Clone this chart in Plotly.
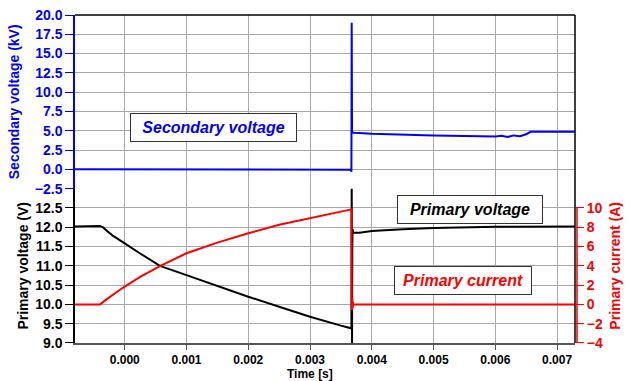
import plotly.graph_objects as go

# ---- data ----
t_sec = [-0.000805, 0.0, 0.0001, 0.0002, 0.00366, 0.00367, 0.003675, 0.00368, 0.003685, 0.0037,
         0.0038, 0.004, 0.005, 0.006, 0.0061, 0.0062, 0.0063, 0.0064, 0.0065, 0.00657, 0.007, 0.00729]
v_sec = [0.0, 0.0, -0.05, 0.0, -0.05, -0.3, 19.0, 5.0, 4.8, 4.75,
         4.7, 4.6, 4.4, 4.25, 4.35, 4.2, 4.4, 4.3, 4.55, 4.87, 4.87, 4.87]

t_pv = [-0.000805, -0.0004, -0.00035, -0.0003, -0.0002, -0.0001, 0.0, 0.00025, 0.00057, 0.001,
        0.0015, 0.002, 0.0025, 0.003, 0.0035, 0.00367, 0.003675, 0.00368, 0.003685, 0.00369,
        0.0037, 0.0038, 0.004, 0.0045, 0.005, 0.006, 0.00729]
v_pv = [12.02, 12.03, 12.0, 11.92, 11.79, 11.68, 11.58, 11.32, 11.0, 10.76,
        10.47, 10.2, 9.94, 9.68, 9.45, 9.38, 13.3, 8.9, 11.6, 11.95,
        11.86, 11.86, 11.9, 11.95, 11.98, 12.01, 12.02]

t_pc = [-0.000805, -0.0004, -0.0003, -0.0002, -0.0001, 0.0, 0.00025, 0.00057, 0.001, 0.0015,
        0.002, 0.0025, 0.003, 0.0035, 0.00367, 0.003675, 0.00368, 0.003685, 0.00369, 0.003695,
        0.0037, 0.00372, 0.00729]
i_pc = [0.0, 0.0, 0.5, 0.98, 1.42, 1.84, 2.85, 3.98, 5.3, 6.4,
        7.37, 8.25, 8.95, 9.6, 9.85, 0.4, -0.6, 0.7, -0.4, 0.2,
        0.0, 0.0, 0.0]

x_ticks = [0.000, 0.001, 0.002, 0.003, 0.004, 0.005, 0.006, 0.007]
sec_ticks = [-2.5, 0.0, 2.5, 5.0, 7.5, 10.0, 12.5, 15.0, 17.5, 20.0]
pv_ticks = [9.0, 9.5, 10.0, 10.5, 11.0, 11.5, 12.0, 12.5]
pc_ticks = [-4, -2, 0, 2, 4, 6, 8, 10]

FONT = "Arial, Liberation Sans, sans-serif"
BLUE = "#0000ff"
RED = "#ff0000"
GRID = "#a8a8a8"

fig = go.Figure()
fig.add_trace(go.Scatter(x=t_sec, y=v_sec, mode="lines", line=dict(color=BLUE, width=2),
                         xaxis="x", yaxis="y", showlegend=False))
fig.add_trace(go.Scatter(x=t_pv, y=v_pv, mode="lines", line=dict(color="black", width=2),
                         xaxis="x", yaxis="y2", showlegend=False))
fig.add_trace(go.Scatter(x=t_pc, y=i_pc, mode="lines", line=dict(color=RED, width=2),
                         xaxis="x", yaxis="y3", showlegend=False))

fig.update_layout(
    width=630, height=381,
    margin=dict(l=75, r=55, t=15, b=38),
    paper_bgcolor="white", plot_bgcolor="white",
    font=dict(family=FONT),
    xaxis=dict(anchor="y2", range=[-0.000805, 0.00729], tickvals=x_ticks, tickformat=".3f",
               automargin=False, ticklabelstandoff=0,
               showgrid=True, gridcolor=GRID, gridwidth=1, zeroline=False,
               showline=True, linecolor="#555555", linewidth=2,
               ticks="outside", ticklen=5, tickcolor="#555555",
               tickfont=dict(family=FONT, size=12, color="black", weight="bold")),
    yaxis=dict(domain=[8/17, 1], range=[-2.5, 20], tickvals=sec_ticks, tickformat=".1f",
               anchor="x", automargin=False, showgrid=True, gridcolor=GRID, zeroline=False,
               showline=True, linecolor=BLUE, linewidth=1.5,
               ticks="outside", ticklen=8, tickcolor=BLUE,
               tickfont=dict(family=FONT, size=14, color=BLUE, weight="bold"),
               title=dict(text="<b>Secondary voltage (kV)</b>",
                          font=dict(family=FONT, size=14, color=BLUE), standoff=12)),
    yaxis2=dict(domain=[0, 8/17], range=[9, 13], tickvals=pv_ticks, tickformat=".1f",
                anchor="x", automargin=False, showgrid=True, gridcolor=GRID, zeroline=False,
                showline=True, linecolor="black", linewidth=1.5,
                ticks="outside", ticklen=8, tickcolor="black",
                tickfont=dict(family=FONT, size=14, color="black", weight="bold"),
                title=dict(text="<b>Primary voltage (V)</b>",
                           font=dict(family=FONT, size=14, color="black"), standoff=3)),
    yaxis3=dict(range=[-4, 12], tickvals=pc_ticks, side="right",
                anchor="x", overlaying="y2", automargin=False, showgrid=False, zeroline=False,
                showline=False,
                ticks="outside", ticklen=8, tickcolor=RED,
                tickfont=dict(family=FONT, size=14, color=RED, weight="bold"),
                title=dict(text="<b>Primary current (A)</b>",
                           font=dict(family=FONT, size=14, color=RED), standoff=8)),
)

# x-axis title
fig.add_annotation(xref="paper", yref="paper", x=0.47, y=-0.094, text="<b>Time [s]</b>",
                   showarrow=False, font=dict(family=FONT, size=12, color="black"),
                   xanchor="center", yanchor="middle")

# frame: top and right borders
fig.add_shape(type="line", xref="paper", yref="paper", x0=0, x1=1, y0=1, y1=1,
              line=dict(color="black", width=1.5))
fig.add_shape(type="line", xref="paper", yref="paper", x0=1, x1=1, y0=0, y1=1,
              line=dict(color="black", width=1.5))
# red spine of the current axis (only over its tick range)
fig.add_shape(type="line", xref="paper", yref="y3", x0=1.004, x1=1.004, y0=pc_ticks[0], y1=pc_ticks[-1],
              line=dict(color=RED, width=1.5))

def box(text, color, x, y, w):
    fig.add_annotation(xref="paper", yref="paper", x=x, y=y, text=f"<b><i>{text}</i></b>",
                       showarrow=False, font=dict(family=FONT, size=16, color=color),
                       bgcolor="white", bordercolor="#333333", borderwidth=1, borderpad=4,
                       width=w, height=19, xanchor="center", yanchor="middle")

box("Secondary voltage", BLUE, 0.277, 0.657, 157)
box("Primary voltage", "black", 0.79, 0.4085, 136)
box("Primary current", RED, 0.776, 0.1905, 128)

fig.write_html("out.html")
